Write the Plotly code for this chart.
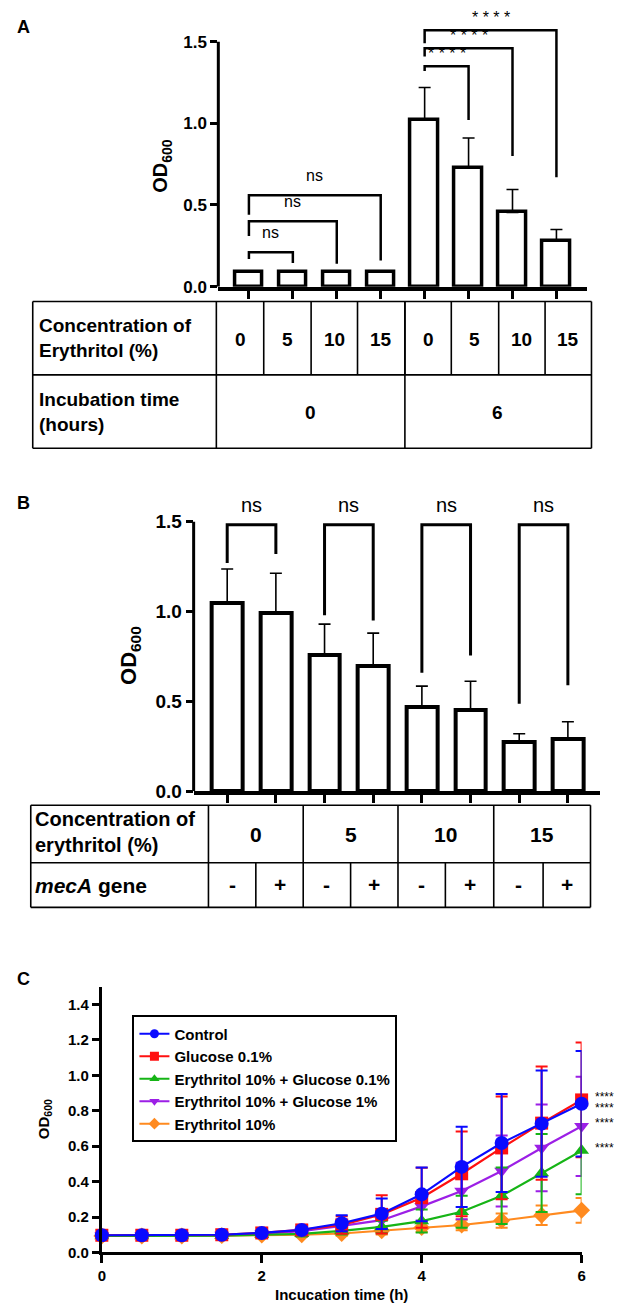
import plotly.graph_objects as go

W, H = 624, 1309
FONT = "Liberation Sans, Arial, sans-serif"

# ---- panel A data
A_conc = ["0", "5", "10", "15", "0", "5", "10", "15"]
A_time = ["0", "6"]
A_mean = [0.09, 0.09, 0.09, 0.09, 1.02, 0.725, 0.455, 0.28]
A_sd = [0.004, 0.003, 0.003, 0.003, 0.20, 0.185, 0.14, 0.07]
A_pairs = [(0, 1), (0, 2), (0, 3), (4, 5), (4, 6), (4, 7)]
A_top = [0.21, 0.40, 0.56, 1.35, 1.46, 1.57]
A_foot_left = [0.17, 0.31, 0.44, 1.32, 1.41, 1.49]
A_foot_right = [0.145, 0.14, 0.16, 1.02, 0.80, 0.67]
A_sig = ["ns", "ns", "ns", "****", "****", "****"]

# ---- panel B data
B_conc = ["0", "5", "10", "15"]
B_meca = ["-", "+", "-", "+", "-", "+", "-", "+"]
B_mean = [1.047, 0.993, 0.757, 0.70, 0.47, 0.454, 0.276, 0.29]
B_sd = [0.19, 0.22, 0.173, 0.18, 0.115, 0.158, 0.044, 0.097]
B_pairs = [(0, 1), (2, 3), (4, 5), (6, 7)]
B_top = [1.483, 1.483, 1.483, 1.483]
B_foot_left = [1.27, 0.98, 0.66, 0.487]
B_foot_right = [1.32, 0.95, 0.755, 0.59]
B_sig = ["ns", "ns", "ns", "ns"]

# ---- panel C data
time_h = [0, 0.5, 1, 1.5, 2, 2.5, 3, 3.5, 4, 4.5, 5, 5.5, 6]
ctrl = [0.097, 0.097, 0.097, 0.10, 0.11, 0.127, 0.165, 0.219, 0.328, 0.483, 0.618, 0.727, 0.839]
ctrl_sd = [0.005, 0.005, 0.005, 0.006, 0.01, 0.015, 0.045, 0.086, 0.152, 0.227, 0.277, 0.30, 0.298]
glu = [0.097, 0.097, 0.097, 0.10, 0.11, 0.127, 0.155, 0.215, 0.309, 0.444, 0.59, 0.73, 0.861]
glu_sd = [0.005, 0.005, 0.005, 0.006, 0.01, 0.015, 0.05, 0.108, 0.169, 0.239, 0.29, 0.319, 0.324]
ery_glu01 = [0.093, 0.093, 0.093, 0.095, 0.10, 0.105, 0.122, 0.144, 0.177, 0.23, 0.32, 0.449, 0.575]
ery_glu01_sd = [0.003, 0.003, 0.003, 0.004, 0.01, 0.015, 0.02, 0.035, 0.065, 0.09, 0.16, 0.22, 0.247]
ery_glu1 = [0.095, 0.095, 0.095, 0.098, 0.105, 0.12, 0.15, 0.182, 0.26, 0.347, 0.46, 0.59, 0.712]
ery_glu1_sd = [0.003, 0.003, 0.003, 0.004, 0.006, 0.01, 0.02, 0.04, 0.08, 0.16, 0.2, 0.245, 0.28]
ery = [0.093, 0.093, 0.093, 0.095, 0.098, 0.10, 0.107, 0.122, 0.14, 0.155, 0.18, 0.21, 0.238]
ery_sd = [0.003, 0.003, 0.003, 0.004, 0.005, 0.01, 0.012, 0.02, 0.025, 0.03, 0.04, 0.055, 0.07]
C_names = ["Control", "Glucose 0.1%", "Erythritol 10% + Glucose 0.1%",
           "Erythritol 10% + Glucose 1%", "Erythritol 10%"]
C_series = [ctrl, glu, ery_glu01, ery_glu1, ery]
C_errors = [ctrl_sd, glu_sd, ery_glu01_sd, ery_glu1_sd, ery_sd]
C_colors = ["#0a0aff", "#ff1010", "#16b416", "#9c1fe6", "#ff8a1f"]
C_symbols = ["circle", "square", "triangle-up", "triangle-down", "diamond"]
C_star_y = [0.892, 0.83, 0.746, 0.606]


def fx(p):
    return p / W


def fy(p):
    return 1 - p / H


fig = go.Figure()
shapes = []
annotations = []


def text(x, y, s, size, bold=True, xanchor="center", textangle=0, align="center"):
    annotations.append(dict(
        x=fx(x), y=fy(y), xref="paper", yref="paper", text=s, showarrow=False,
        xanchor=xanchor, yanchor="middle", textangle=textangle, align=align,
        font=dict(family=FONT, size=size, color="black",
                  weight="bold" if bold else "normal")))


def line(x0, y0, x1, y1, width=1.6):
    shapes.append(dict(type="line", xref="paper", yref="paper",
                       x0=fx(x0), y0=fy(y0), x1=fx(x1), y1=fy(y1),
                       line=dict(color="black", width=width)))


def bar_panel(means, sds, xa, ya, lw):
    fig.add_trace(go.Bar(
        x=list(range(len(means))), y=means, width=0.63, xaxis=xa, yaxis=ya,
        marker=dict(color="white", line=dict(color="black", width=lw)),
        error_y=dict(type="data", array=sds, arrayminus=[0] * len(sds),
                     symmetric=False, color="black", thickness=1.6, width=6),
        showlegend=False))


def brackets(pairs, tops, feet_l, feet_r, labels, xa, ya, size, lw, ns_shift, star_shift):
    for (i, j), t, fl, fr, lab in zip(pairs, tops, feet_l, feet_r, labels):
        shapes.append(dict(
            type="path", xref=xa, yref=ya,
            path=f"M {i},{fl} L {i},{t} L {j},{t} L {j},{fr}",
            line=dict(color="black", width=lw)))
        star = lab.startswith("*")
        annotations.append(dict(
            x=(i + j) / 2, y=t, xref=xa, yref=ya, showarrow=False,
            text="* * * *" if star else lab, xanchor="center", yanchor="bottom",
            yshift=star_shift if star else ns_shift,
            font=dict(family=FONT, size=size, color="black")))


# ---------------- panel A
A_scale = (281 - 34) / 1.5
bar_panel(A_mean, A_sd, "x", "y", 3.5)
brackets(A_pairs, A_top, A_foot_left, A_foot_right, A_sig, "x", "y", 16, 2.5, 9, 2)
shapes.append(dict(type="line", xref="x domain", yref="y", x0=0, x1=0, y0=0, y1=1.5,
                   line=dict(color="black", width=3)))
text(12, 19, "A", 18)
text(152, 159, "OD<sub>600</sub>", 20, textangle=-90)

# table A
for yy in (296, 370, 444):
    line(21, yy, 587, yy)
for xx in (21, 207, 398, 587):
    line(xx, 296, xx, 444)
A_cols = [207, 255, 303, 350, 398, 445, 493, 540, 587]
for xx in A_cols[1:-1]:
    line(xx, 296, xx, 370)
for k, lab in enumerate(A_conc):
    text((A_cols[k] + A_cols[k + 1]) / 2, 334, lab, 19)
text(302, 408, A_time[0], 19)
text(492, 408, A_time[1], 19)
text(25, 333, "Concentration of<br>Erythritol (%)", 19, xanchor="left", align="left")
text(25, 407, "Incubation time<br>(hours)", 19, xanchor="left", align="left")

# ---------------- panel B
B_scale = (790 - 518) / 1.5
bar_panel(B_mean, B_sd, "x2", "y2", 4)
brackets(B_pairs, B_top, B_foot_left, B_foot_right, B_sig, "x2", "y2", 20, 3, 7, 2)
shapes.append(dict(type="line", xref="x2 domain", yref="y2", x0=0, x1=0, y0=0, y1=1.5,
                   line=dict(color="black", width=3)))
text(12, 499, "B", 18)
text(119, 653, "OD<sub>600</sub>", 22, textangle=-90)

for yy in (804, 862, 907):
    line(19, yy, 586, yy)
B_cols = [199, 247, 295, 343, 391, 439, 488, 538, 586]
for xx in [19] + B_cols[::2]:
    line(xx, 804, xx, 907)
for xx in B_cols[1::2]:
    line(xx, 862, xx, 907)
for k, lab in enumerate(B_conc):
    text((B_cols[2 * k] + B_cols[2 * k + 2]) / 2, 833, lab, 21)
for k, lab in enumerate(B_meca):
    text((B_cols[k] + B_cols[k + 1]) / 2, 884, lab, 21)
text(21, 831, "Concentration of<br>erythritol (%)", 20, xanchor="left", align="left")
text(21, 885, "<i>mecA</i> gene", 21, xanchor="left", align="left")

# ---------------- panel C
for name, ys, es, col, sym in list(zip(C_names, C_series, C_errors, C_colors, C_symbols))[::-1]:
    fig.add_trace(go.Scatter(
        x=time_h, y=ys, mode="lines+markers", name=name, xaxis="x3", yaxis="y3",
        line=dict(color=col, width=2.2),
        marker=dict(symbol=sym, size=14 if sym == "circle" else 13, color=col),
        error_y=dict(type="data", array=es, color=col, thickness=2, width=6),
        cliponaxis=False, showlegend=False))
for name, col, sym in zip(C_names, C_colors, C_symbols):
    fig.add_trace(go.Scatter(
        x=[None], y=[None], mode="lines+markers", name=name, xaxis="x3", yaxis="y3",
        line=dict(color=col, width=2), marker=dict(symbol=sym, size=9, color=col)))
for sy in C_star_y:
    annotations.append(dict(x=6, y=sy, xref="x3", yref="y3", text="****", showarrow=False,
                            xshift=23, yshift=-3, font=dict(family=FONT, size=12, color="black")))
text(12, 979, "C", 18)
text(33, 1121, "OD<sub>600</sub>", 15, textangle=-90)
text(334, 1297, "Incucation time (h)", 15)

axis_common = dict(showgrid=False, zeroline=False, color="black")

fig.update_layout(
    width=W, height=H, margin=dict(l=0, r=0, t=0, b=0),
    paper_bgcolor="white", plot_bgcolor="white",
    font=dict(family=FONT, color="black"),
    bargap=0,
    xaxis=dict(domain=[fx(209), fx(582)], range=[(209 - 240) / 44.5, (582 - 240) / 44.5],
               anchor="y", showline=True, linewidth=3.5, linecolor="black",
               ticks="outside", tickvals=list(range(8)), ticklen=9, tickwidth=2.5,
               tickcolor="black", showticklabels=False, **axis_common),
    yaxis=dict(domain=[fy(281), fy(5)], range=[0, (281 - 5) / A_scale], anchor="x",
               showline=False, ticks="outside", tickvals=[0, 0.5, 1.0, 1.5],
               ticktext=["0.0", "0.5", "1.0", "1.5"], ticklen=7, tickwidth=3,
               tickcolor="black", tickfont=dict(size=17, weight="bold"), **axis_common),
    xaxis2=dict(domain=[fx(184), fx(596)], range=[(184 - 218) / 49.3, (596 - 218) / 49.3],
                anchor="y2", showline=True, linewidth=3.5, linecolor="black",
                ticks="outside", tickvals=list(range(8)), ticklen=8, tickwidth=2.5,
                tickcolor="black", showticklabels=False, **axis_common),
    yaxis2=dict(domain=[fy(790), fy(490)], range=[0, (790 - 490) / B_scale], anchor="x2",
                showline=False, ticks="outside", tickvals=[0, 0.5, 1.0, 1.5],
                ticktext=["0.0", "0.5", "1.0", "1.5"], ticklen=7, tickwidth=3,
                tickcolor="black", tickfont=dict(size=19, weight="bold"), **axis_common),
    xaxis3=dict(domain=[fx(91), fx(577)], range=[0, 6], anchor="y3",
                showline=True, linewidth=3, linecolor="black",
                ticks="outside", tickvals=[0, 2, 4, 6], ticklen=8, tickwidth=2.5,
                tickcolor="black", tickfont=dict(size=15, weight="bold"), **axis_common),
    yaxis3=dict(domain=[fy(1255), fy(987)], range=[0, 1.5], anchor="x3",
                showline=True, linewidth=3, linecolor="black",
                ticks="outside", tickvals=[0, 0.2, 0.4, 0.6, 0.8, 1.0, 1.2, 1.4],
                ticktext=["0.0", "0.2", "0.4", "0.6", "0.8", "1.0", "1.2", "1.4"],
                ticklen=7, tickwidth=2.5, tickcolor="black",
                tickfont=dict(size=15, weight="bold"), **axis_common),
    legend=dict(x=fx(122), y=fy(1016), xanchor="left", yanchor="top",
                bgcolor="white", bordercolor="black", borderwidth=2,
                font=dict(size=15, weight="bold", family=FONT), itemwidth=30,
                tracegroupgap=0),
    shapes=shapes, annotations=annotations,
)

fig.write_html("out.html")
